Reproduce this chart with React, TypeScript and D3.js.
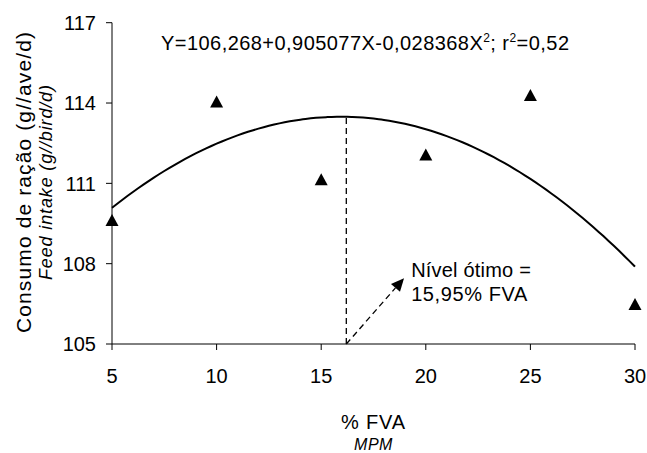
import React from "react";
import * as d3 from "d3";

// ---- data ----
const xLevels = [5, 10, 15, 20, 25, 30];
const feedIntake = [109.63, 114.06, 111.15, 112.08, 114.3, 106.49];
const yTicks = [105, 108, 111, 114, 117];
const coefA = 106.268;
const coefB = 0.905077;
const coefC = -0.028368;
const optimumLine = [16.2, 105, 113.55]; // x, y from, y to
const arrowFrom = [16.2, 105];
const arrowTo = [18.96, 107.46];

const W = 647;
const H = 453;
const FONT = "'Liberation Sans', Arial, Helvetica, sans-serif";

export default function App() {
  const x = d3.scaleLinear().domain([5, 30]).range([112, 635]);
  const y = d3.scaleLinear().domain([105, 117]).range([344, 22.7]);

  const curveX = d3.range(5, 30.001, 0.25);
  const curve = d3
    .line<number>()
    .x((d) => x(d))
    .y((d) => y(coefA + coefB * d + coefC * d * d))
    .curve(d3.curveMonotoneX)(curveX);

  const tri = (cx: number, cy: number) => {
    const w = 13;
    const h = 12;
    return `M${cx},${cy - h / 2}L${cx + w / 2},${cy + h / 2}L${cx - w / 2},${cy + h / 2}Z`;
  };

  const ax0 = x(arrowFrom[0]);
  const ay0 = y(arrowFrom[1]);
  const ax1 = x(arrowTo[0]);
  const ay1 = y(arrowTo[1]);
  const ang = Math.atan2(ay1 - ay0, ax1 - ax0);
  const headLen = 13;
  const headW = 6;
  const bx = ax1 - headLen * Math.cos(ang);
  const by = ay1 - headLen * Math.sin(ang);
  const px = -Math.sin(ang) * headW;
  const py = Math.cos(ang) * headW;
  const head = `M${ax1},${ay1}L${bx + px},${by + py}L${bx - px},${by - py}Z`;

  return (
    <svg
      width={W}
      height={H}
      style={{ position: "absolute", left: 0, top: 0, background: "#fff" }}
      fontFamily={FONT}
    >
      <rect width={W} height={H} fill="#fff" />
      <line x1={x(5)} x2={x(5)} y1={y(117)} y2={y(105)} stroke="#000" strokeWidth={1} />
      <line x1={x(5)} x2={x(30)} y1={y(105)} y2={y(105)} stroke="#000" strokeWidth={1} />
      {yTicks.map((t) => (
        <g key={"y" + t}>
          <line x1={x(5) - 6} x2={x(5)} y1={y(t)} y2={y(t)} stroke="#000" />
          <text x={x(5) - 16} y={y(t)} dy="0.36em" textAnchor="end" fontSize={20} fill="#000">
            {t}
          </text>
        </g>
      ))}
      {xLevels.map((t) => (
        <g key={"x" + t}>
          <line x1={x(t)} x2={x(t)} y1={y(105)} y2={y(105) + 6} stroke="#000" />
          <text x={x(t)} y={383} textAnchor="middle" fontSize={20} fill="#000">
            {t}
          </text>
        </g>
      ))}

      <path d={curve || ""} fill="none" stroke="#000" strokeWidth={2} />

      <line
        x1={x(optimumLine[0])}
        x2={x(optimumLine[0])}
        y1={y(optimumLine[1])}
        y2={y(optimumLine[2])}
        stroke="#000"
        strokeWidth={1.3}
        strokeDasharray="6,4"
      />
      <line
        x1={ax0}
        y1={ay0}
        x2={bx}
        y2={by}
        stroke="#000"
        strokeWidth={1.3}
        strokeDasharray="6,4"
      />
      <path d={head} fill="#000" />
      <text x={x(19.3)} y={y(107.5)} fontSize={20} letterSpacing={0.2} fill="#000">
        Nível ótimo =
      </text>
      <text x={x(19.3)} y={y(106.6)} fontSize={20} letterSpacing={0.6} fill="#000">
        15,95% FVA
      </text>

      {xLevels.map((d, i) => (
        <path key={"p" + i} d={tri(x(d), y(feedIntake[i]))} fill="#000" />
      ))}

      <text x={161} y={50} fontSize={20} letterSpacing={0.45} fill="#000">
        Y=106,268+0,905077X-0,028368X
        <tspan fontSize={12} dy={-8}>2</tspan>
        <tspan dy={8}>; r</tspan>
        <tspan fontSize={12} dy={-8}>2</tspan>
        <tspan dy={8}>=0,52</tspan>
      </text>

      <text x={x(17.5)} y={429} textAnchor="middle" fontSize={20} letterSpacing={0.8} fill="#000">
        %  FVA
      </text>
      <text x={x(17.5)} y={450} textAnchor="middle" fontSize={16} fontStyle="italic" letterSpacing={0.5} fill="#000">
        MPM
      </text>
      <text
        transform={`translate(31,${182.5}) rotate(-90)`}
        textAnchor="middle"
        fontSize={21}
        textLength={301}
        lengthAdjust="spacing"
        fill="#000"
      >
        Consumo de ração  (g//ave/d)
      </text>
      <text
        transform={`translate(52,${182.5}) rotate(-90)`}
        textAnchor="middle"
        fontSize={18}
        fontStyle="italic"
        textLength={195}
        lengthAdjust="spacing"
        fill="#000"
      >
        Feed intake (g//bird/d)
      </text>
    </svg>
  );
}
